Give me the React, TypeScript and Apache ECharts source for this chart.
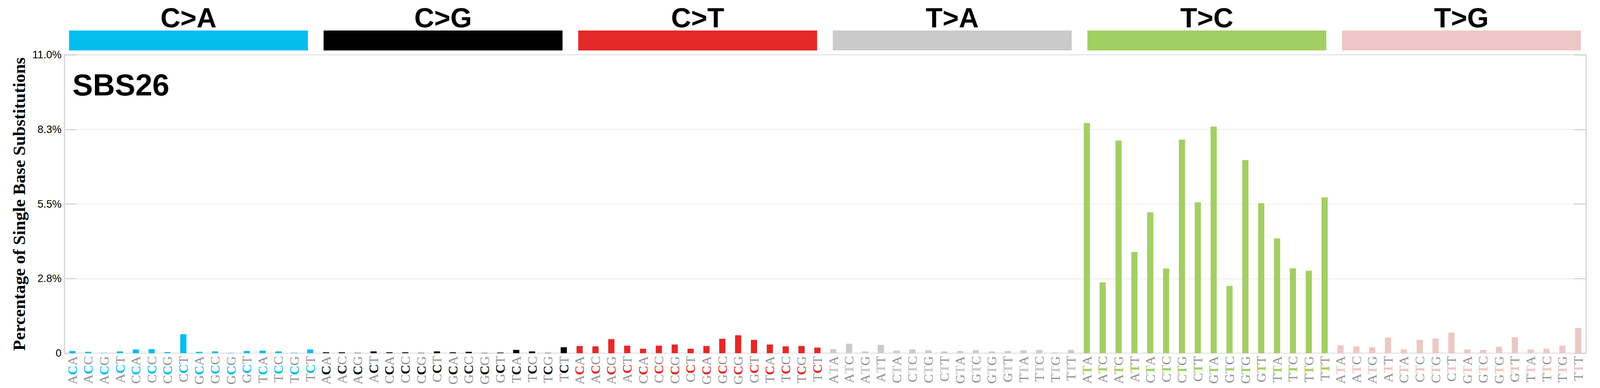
import React, { useEffect, useRef } from 'react';
import * as echarts from 'echarts';

// mutation classes and their colours
const MUTATIONS = ['C>A', 'C>G', 'C>T', 'T>A', 'T>C', 'T>G'];
const COLORS = ['#03BDEF', '#010101', '#E42926', '#CBCACA', '#A2CF63', '#ECC7C5'];

// 5' and 3' flanking bases, in plotting order
const CONTEXTS = [
  'A_A', 'A_C', 'A_G', 'A_T',
  'C_A', 'C_C', 'C_G', 'C_T',
  'G_A', 'G_C', 'G_G', 'G_T',
  'T_A', 'T_C', 'T_G', 'T_T',
];

// percentage of single base substitutions, per mutation class
const CA_VALUES = [0.08, 0.05, 0.01, 0.066, 0.137, 0.15, 0.04, 0.7, 0.05, 0.066, 0.01, 0.08, 0.094, 0.066, 0.014, 0.137];
const CG_VALUES = [0.033, 0.033, 0.01, 0.066, 0.033, 0.033, 0.01, 0.066, 0.033, 0.052, 0.01, 0.024, 0.122, 0.066, 0.01, 0.22];
const CT_VALUES = [0.264, 0.25, 0.518, 0.278, 0.165, 0.278, 0.32, 0.165, 0.264, 0.532, 0.66, 0.49, 0.32, 0.25, 0.264, 0.207];
const TA_VALUES = [0.15, 0.35, 0.066, 0.306, 0.094, 0.137, 0.108, 0.066, 0.08, 0.108, 0.066, 0.08, 0.108, 0.122, 0.024, 0.122];
const TC_VALUES = [8.48, 2.61, 7.84, 3.73, 5.19, 3.12, 7.87, 5.56, 8.35, 2.48, 7.12, 5.53, 4.23, 3.13, 3.04, 5.74];
const TG_VALUES = [0.29, 0.25, 0.22, 0.575, 0.137, 0.49, 0.546, 0.758, 0.137, 0.122, 0.235, 0.59, 0.137, 0.165, 0.278, 0.928];

const Y_MAX = 11;
const Y_STEP = 2.75;

// layout is designed for a 4393 x 992 page and scaled to the real one
const DESIGN_W = 4393;
const DESIGN_H = 992;

const SANS = "'Liberation Sans', Arial, sans-serif";
const SERIF = "'Liberation Serif', 'Times New Roman', serif";

export default function App() {
  const chartRef = useRef<HTMLDivElement>(null);

  useEffect(() => {
    document.body.style.margin = '0';
    document.body.style.overflow = 'hidden';
    const el = chartRef.current;
    if (!el) return;

    const chart = echarts.init(el, null, { renderer: 'svg' });

    const build = () => {
      const sx = el.clientWidth / DESIGN_W;
      const sy = el.clientHeight / DESIGN_H;
      const s = Math.min(sx, sy);

      const allValues = [CA_VALUES, CG_VALUES, CT_VALUES, TA_VALUES, TC_VALUES, TG_VALUES];
      const categories: string[] = [];
      const values: number[] = [];
      MUTATIONS.forEach((m, mi) => {
        CONTEXTS.forEach((c, ci) => {
          categories.push(c[0] + m[0] + c[2]);
          values.push(allValues[mi][ci]);
        });
      });

      const rich: Record<string, any> = {
        f: {
          fontFamily: SERIF,
          fontSize: 36 * s,
          color: '#8f8f8f',
        },
      };
      COLORS.forEach((col, i) => {
        rich['m' + i] = {
          fontFamily: SERIF,
          fontSize: 36 * s,
          fontWeight: 'bold',
          color: col,
        };
      });

      return {
        animation: false,
        title: {
          text: 'SBS26',
          left: 199 * sx,
          top: 178 * sy,
          padding: 0,
          textStyle: {
            fontFamily: SANS,
            fontSize: 84 * s,
            fontWeight: 'bold',
            color: '#000',
          },
        },
        grid: [
          {
            left: 177 * sx,
            right: 38 * sx,
            top: 140 * sy,
            bottom: 89 * sy,
            show: true,
            borderColor: '#d3d3d3',
            borderWidth: 3 * s,
          },
          {
            left: 168 * sx,
            right: 31 * sx,
            top: 78 * sy,
            height: 51 * sy,
          },
        ],
        xAxis: [
          {
            type: 'category',
            gridIndex: 0,
            data: categories,
            axisLine: { show: false },
            axisTick: { show: false },
            axisLabel: {
              interval: 0,
              rotate: 90,
              margin: 8 * s,
              formatter: (value: string, index: number) =>
                `{f|${value[0]}}{m${Math.floor(index / 16)}|${value[1]}}{f|${value[2]}}`,
              rich,
            },
          },
          {
            type: 'category',
            gridIndex: 1,
            position: 'top',
            data: MUTATIONS,
            axisLine: { show: false },
            axisTick: { show: false },
            axisLabel: {
              margin: 33 * sy,
              verticalAlign: 'middle',
              fontFamily: SANS,
              fontSize: 76 * s,
              fontWeight: 'bold',
              color: '#000',
            },
          },
        ],
        yAxis: [
          {
            type: 'value',
            gridIndex: 0,
            min: 0,
            max: Y_MAX,
            interval: Y_STEP,
            name: 'Percentage of Single Base Substitutions',
            nameLocation: 'middle',
            nameGap: 100 * s,
            nameTextStyle: {
              fontFamily: SERIF,
              fontWeight: 'bold',
              fontSize: 48 * s,
              color: '#000',
            },
            axisLine: { show: false },
            axisTick: {
              show: true,
              inside: true,
              length: 33 * s,
              lineStyle: { color: '#d3d3d3', width: 3 * s },
            },
            axisLabel: {
              margin: 8 * s,
              fontFamily: SANS,
              fontSize: 29 * s,
              color: '#000',
              formatter: (v: number) => (v === 0 ? '0' : v.toFixed(1) + '%'),
            },
            splitLine: { lineStyle: { color: '#ececec', width: 2 * s } },
          },
          {
            type: 'value',
            gridIndex: 0,
            position: 'right',
            min: 0,
            max: Y_MAX,
            interval: Y_STEP,
            axisLine: { show: false },
            axisTick: {
              show: true,
              inside: true,
              length: 33 * s,
              lineStyle: { color: '#d3d3d3', width: 3 * s },
            },
            axisLabel: { show: false },
            splitLine: { show: false },
          },
          {
            type: 'value',
            gridIndex: 1,
            min: 0,
            max: 1,
            show: false,
          },
        ],
        series: [
          {
            type: 'bar',
            xAxisIndex: 0,
            yAxisIndex: 0,
            barWidth: 17 * sx,
            data: values,
            itemStyle: {
              color: (p: any) => COLORS[Math.floor(p.dataIndex / 16)],
            },
          },
          {
            type: 'bar',
            xAxisIndex: 1,
            yAxisIndex: 2,
            barWidth: 656 * sx,
            data: MUTATIONS.map(() => 1),
            itemStyle: {
              color: (p: any) => COLORS[p.dataIndex],
            },
          },
        ],
      };
    };

    chart.setOption(build());

    const handleResize = () => {
      chart.resize();
      chart.setOption(build());
    };
    window.addEventListener('resize', handleResize);
    return () => {
      window.removeEventListener('resize', handleResize);
      chart.dispose();
    };
  }, []);

  return <div ref={chartRef} style={{ width: '100vw', height: '100vh' }} />;
}
